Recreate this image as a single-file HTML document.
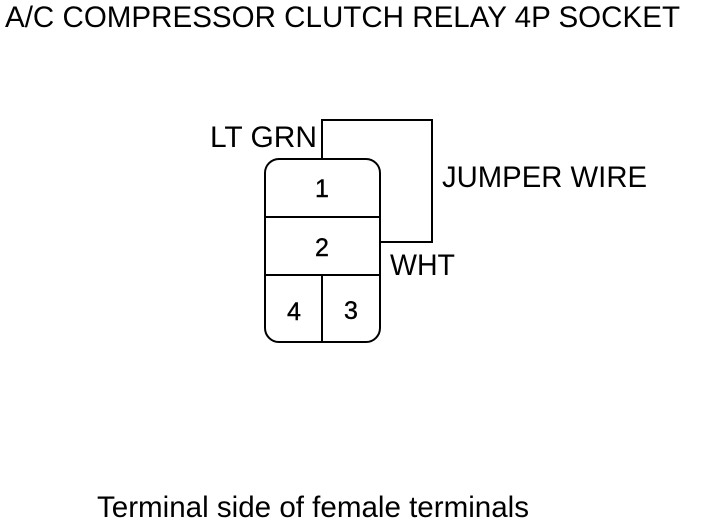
<!DOCTYPE html>
<html><head><style>body{margin:0;background:#fff}svg{display:block}</style></head><body>
<svg width="704" height="528" viewBox="0 0 704 528" xmlns="http://www.w3.org/2000/svg" font-family="Liberation Sans, sans-serif" fill="#000">
<text x="5" y="27" font-size="30" textLength="675" lengthAdjust="spacingAndGlyphs">A/C COMPRESSOR CLUTCH RELAY 4P SOCKET</text>
<text x="210" y="147" font-size="30" textLength="107" lengthAdjust="spacingAndGlyphs">LT GRN</text>
<text x="442" y="187" font-size="30" textLength="205" lengthAdjust="spacingAndGlyphs">JUMPER WIRE</text>
<text x="390" y="275" font-size="30" textLength="65" lengthAdjust="spacingAndGlyphs">WHT</text>
<text x="97" y="517" font-size="30" textLength="432" lengthAdjust="spacingAndGlyphs">Terminal side of female terminals</text>
<g fill="none" stroke="#000" stroke-width="2">
<rect x="265" y="159" width="115" height="183" rx="14"/>
<line x1="265" y1="217" x2="380" y2="217"/>
<line x1="265" y1="275" x2="380" y2="275"/>
<line x1="322" y1="275" x2="322" y2="342"/>
<polyline points="322,159 322,120 432,120 432,242 380,242"/>
</g>
<g font-size="25" text-anchor="middle" stroke="#000" stroke-width="0.4">
<text x="322" y="197">1</text>
<text x="322" y="256">2</text>
<text x="294" y="320">4</text>
<text x="351" y="319">3</text>
</g>
</svg>
</body></html>
